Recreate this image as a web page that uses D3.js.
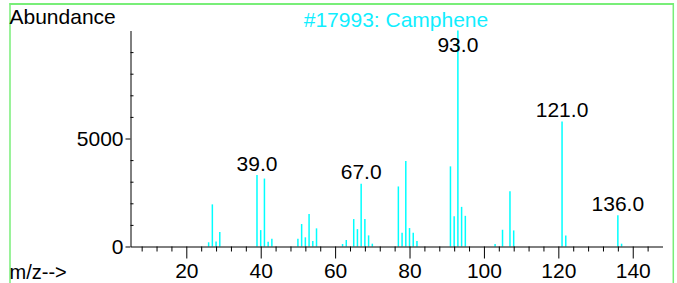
<!DOCTYPE html>
<html>
<head>
<meta charset="utf-8">
<script src="https://cdn.jsdelivr.net/npm/d3@7/dist/d3.min.js"></script>
<style>
  html, body { margin: 0; padding: 0; background: #fff; }
  svg { display: block; }
  text { font-family: "Liberation Sans", Arial, Helvetica, sans-serif; }
</style>
</head>
<body>
<svg id="chart" width="677" height="283"></svg>
<script>
// ---- data ----
const title = "#17993: Camphene";
const yLabel = "Abundance";
const xLabel = "m/z-->";
const mz = [26,27,28,29,39,40,41,42,43,50,51,52,53,54,55,62,63,65,66,67,68,69,70,77,78,79,80,81,82,91,92,93,94,95,103,105,107,108,121,122,136,137];
const abundance = [195,1950,230,670,3310,760,3145,220,360,360,1040,425,1510,255,840,115,300,1270,805,2900,1270,515,130,2780,640,3960,855,640,255,3710,1405,9999,1835,1420,115,775,2560,745,5790,515,1450,130];
const labelledMz = [39, 67, 93, 121, 136];
const xMajorTicks = [20, 40, 60, 80, 100, 120, 140];
const xMinorTicks = [8,12,16,24,28,32,36,44,48,52,56,64,68,72,76,84,88,92,96,104,108,112,116,124,128,132,136,144];
const yMajorTicks = [0, 5000];
const yMinorTicks = [1000,2000,3000,4000,6000,7000,8000,9000];
const xDomain = [5, 148];
const yDomain = [0, 10000];

const svg = d3.select("#chart");
const x = d3.scaleLinear().domain(xDomain).range([130.5, 662.5]);
const y = d3.scaleLinear().domain(yDomain).range([246.5, 30.5]);

const green = "#78ee78";
const cyan = "#00ffff";
const fs = 21;

// frame
svg.append("line").attr("x1", 9.5).attr("x2", 673.5).attr("y1", 4).attr("y2", 4)
  .attr("stroke", green).attr("stroke-width", 2);
svg.append("line").attr("x1", 10).attr("x2", 10).attr("y1", 3).attr("y2", 283)
  .attr("stroke", green).attr("stroke-width", 1.5);
svg.append("line").attr("x1", 673.3).attr("x2", 673.3).attr("y1", 3).attr("y2", 283)
  .attr("stroke", green).attr("stroke-width", 1.5);

// bars
const data = mz.map((m, i) => ({ m, v: abundance[i] }));
svg.append("g").selectAll("line").data(data).join("line")
  .attr("x1", d => x(d.m)).attr("x2", d => x(d.m))
  .attr("y1", y(0)).attr("y2", d => y(d.v))
  .attr("stroke", cyan).attr("stroke-width", 1.5);

// axes
const xMaj = svg.append("g").attr("transform", `translate(0,${y(0)})`)
  .call(d3.axisBottom(x).tickValues(xMajorTicks).tickSize(12).tickSizeOuter(0).tickPadding(5).tickFormat(d3.format("d")));
const xMin = svg.append("g").attr("transform", `translate(0,${y(0)})`)
  .call(d3.axisBottom(x).tickValues(xMinorTicks).tickSize(5).tickFormat(""));
xMin.select(".domain").remove();

const yMaj = svg.append("g").attr("transform", `translate(${x(xDomain[0])},0)`)
  .call(d3.axisLeft(y).tickValues(yMajorTicks).tickSize(5).tickSizeOuter(0).tickPadding(2).tickFormat(d3.format("d")));
const yMin = svg.append("g").attr("transform", `translate(${x(xDomain[0])},0)`)
  .call(d3.axisRight(y).tickValues(yMinorTicks).tickSize(3).tickFormat(""));
yMin.select(".domain").remove();

svg.selectAll(".tick text").attr("font-size", fs).attr("font-family", "Liberation Sans, Arial, sans-serif").attr("fill", "#000");
svg.selectAll(".domain, .tick line").attr("stroke", "#000").attr("stroke-width", 1);

// peak labels
svg.append("g").selectAll("text").data(data.filter(d => labelledMz.includes(d.m))).join("text")
  .attr("x", d => x(d.m))
  .attr("y", d => Math.max(y(d.v) - 4.5, 52))
  .attr("text-anchor", "middle")
  .attr("font-size", fs).attr("fill", "#000")
  .text(d => d3.format(".1f")(d.m));

// texts
svg.append("text").attr("x", 9.5).attr("y", 24).attr("font-size", fs).attr("fill", "#000").text(yLabel);
svg.append("text").attr("x", 396).attr("y", 26.5).attr("text-anchor", "middle").attr("font-size", fs).attr("fill", "#11eeff").text(title);
svg.append("text").attr("x", 9.5).attr("y", 279).attr("font-size", 20).attr("fill", "#000").text(xLabel);
</script>
</body>
</html>
